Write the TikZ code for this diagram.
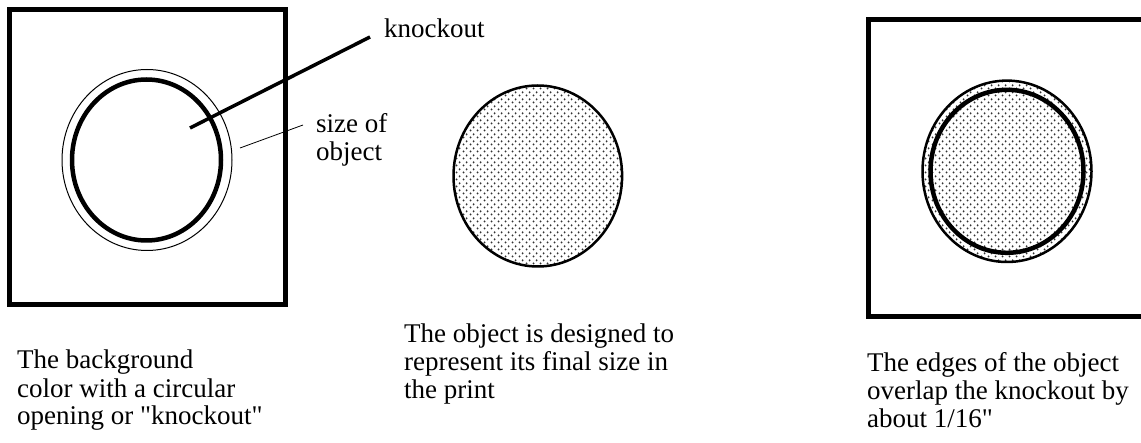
\documentclass[tikz,border=0pt]{standalone}
\usepackage{fontspec}
\setmainfont{Liberation Serif}[Ligatures=TeXOff]
\usetikzlibrary{patterns.meta}
\tikzdeclarepattern{name=objdots, type=uncolored,
  bottom left={(0pt,0pt)}, top right={(7pt,6.6pt)}, tile size={(7pt,6.6pt)},
  code={\fill (1.75pt,1.65pt) circle (1.15pt); \fill (5.25pt,4.95pt) circle (1.15pt);}}
\begin{document}
\begin{tikzpicture}[x=1pt,y=-1pt,
  frame/.style={line width=5pt},
  thinring/.style={line width=1pt},
  thickring/.style={line width=4.5pt},
  objring/.style={line width=2.5pt},
  leader/.style={line width=3.5pt},
  thinleader/.style={line width=0.8pt},
  lbl/.style={inner sep=0pt, anchor=base west, align=left, font=\fontsize{27}{28}\selectfont},
  dots/.style={pattern={objdots}, pattern color=black!80}]
\useasboundingbox (0,0) rectangle (1141,443);
\clip (0,0) rectangle (1141,443);
% left panel
\draw[frame] (9.2,9.2) rectangle (285.8,304.2);
\draw[thinring] (147,160) ellipse [x radius=85pt, y radius=90.5pt];
\draw[thickring] (146.5,160) ellipse [x radius=74.5pt, y radius=80.5pt];
\node[lbl] (knock) at (384,38) {knockout};
\coordinate (kstart) at (190,128);
\coordinate (kend) at (370,37);
\draw[leader] (kstart) -- (kend);
% base anchor of a multi-line node = baseline of its last line
\node[lbl] (size) at (316,161) {size of\\object};
\coordinate (sstart) at (240,148);
\coordinate (send) at (303,125);
\draw[thinleader] (sstart) -- (send);
% middle panel
\draw[objring, dots] (537.8,176) ellipse [x radius=84.3pt, y radius=90.5pt];
% right panel
\draw[frame] (1150,19.8) -- (868.3,19.8) -- (868.3,316.5) -- (1150,316.5);
\draw[objring, dots] (1007,171.3) ellipse [x radius=84.5pt, y radius=90.7pt];
\draw[thickring] (1007,171.3) ellipse [x radius=76.5pt, y radius=81.5pt];
% captions
\node[lbl] (bg) at (17,425) {The background\\color with a circular\\opening or "knockout"};
\node[lbl] (obj) at (404,399) {The object is designed to\\represent its final size in\\the print};
\node[lbl] (edge) at (867,428) {The edges of the object\\overlap the knockout by\\about 1/16"};
\end{tikzpicture}
\end{document}
